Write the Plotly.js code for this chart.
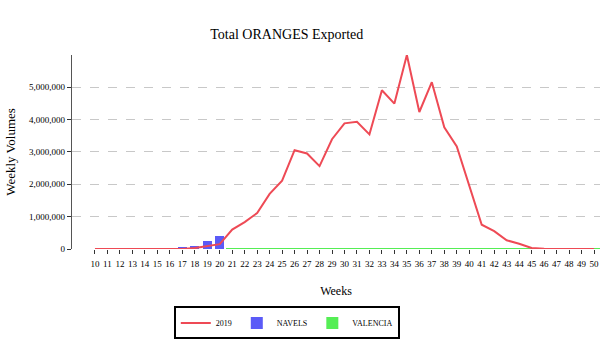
<!DOCTYPE html>
<html>
<head>
<meta charset="utf-8">
<script src="https://cdn.plot.ly/plotly-3.0.1.min.js"></script>
<style>html,body{margin:0;padding:0;background:#fff;}#chart{width:600px;height:342px;}</style>
</head>
<body>
<div id="chart"></div>
<script>
var weeks = [10,11,12,13,14,15,16,17,18,19,20,21,22,23,24,25,26,27,28,29,30,31,32,33,34,35,36,37,38,39,40,41,42,43,44,45,46,47,48,49,50];
var exports2019 = [0,0,0,0,0,0,0,0,30000,80000,150000,600000,830000,1110000,1700000,2110000,3050000,2950000,2560000,3390000,3880000,3930000,3540000,4900000,4490000,5990000,4230000,5150000,3760000,3170000,1980000,750000,550000,270000,160000,30000,10000,0,0,0,0];
var navelWeeks = [17,18,19,20];
var navels = [70000,100000,260000,390000];
var valenciaWeeks = [20,21,22,23,24,25,26,27,28,29,30,31,32,33,34,35,36,37,38,39,40,41,42,43,44,45,46,47,48,49,50];
var valencia = [20000,25000,25000,25000,25000,25000,25000,25000,25000,25000,25000,25000,25000,25000,25000,25000,25000,25000,25000,25000,25000,25000,25000,25000,25000,25000,25000,25000,25000,25000,25000];
var yTicks = [0,1000000,2000000,3000000,4000000,5000000];

var serif = "'Liberation Serif', 'Times New Roman', serif";
var traces = [
  {type:'bar', x:navelWeeks, y:navels, name:'NAVELS', width:0.72, legendrank:2,
   marker:{color:'#5b5bf7', line:{width:0}}},
  {type:'bar', x:valenciaWeeks, y:valencia, name:'VALENCIA', width:1, legendrank:3,
   marker:{color:'#55ee55', line:{width:0}}},
  {type:'scatter', mode:'lines', x:weeks, y:exports2019, name:'2019', legendrank:1,
   line:{color:'#ee4a55', width:2}}
];
var layout = {
  width:600, height:342,
  margin:{l:72, r:0, t:55, b:93},
  paper_bgcolor:'#fff', plot_bgcolor:'#fff',
  barmode:'stack',
  title:{text:'Total ORANGES Exported', font:{family:serif, size:14, color:'#000'}, x:0.478, xanchor:'center', y:0.9, yanchor:'middle'},
  font:{family:serif, color:'#000'},
  xaxis:{range:[8.16,50.48], tickvals:weeks, ticktext:weeks.map(String), tickfont:{family:serif,size:9,color:'#000'},
    ticks:'outside', ticklen:4, tickcolor:'#333', showgrid:false, zeroline:false, showline:false, ticklabeloverflow:'allow',
    ticklabelstandoff:2,
    title:{text:'Weeks', font:{family:serif,size:12,color:'#000'}, standoff:18}},
  yaxis:{range:[0,5990000], tickvals:yTicks, ticktext:yTicks.map(function(v){return v.toLocaleString('en-US');}),
    tickfont:{family:serif,size:9,color:'#000'}, ticks:'outside', ticklen:4, tickcolor:'#333',
    showgrid:true, gridcolor:'#c8c8c8', griddash:'dash', gridwidth:1, zeroline:false,
    showline:true, linecolor:'#555', linewidth:1.3,
    title:{text:'Weekly Volumes', font:{family:serif,size:13,color:'#000'}, standoff:10}},
  showlegend:true,
  legend:{orientation:'h', xref:'container', yref:'container', x:0.478, xanchor:'center', y:0.0556, yanchor:'middle',
    bordercolor:'#000', borderwidth:2, traceorder:'normal',
    font:{family:serif,size:8,color:'#000'}, bgcolor:'#fff', itemwidth:30}
};
Plotly.newPlot('chart', traces, layout, {displayModeBar:false, staticPlot:true});
</script>
</body>
</html>
